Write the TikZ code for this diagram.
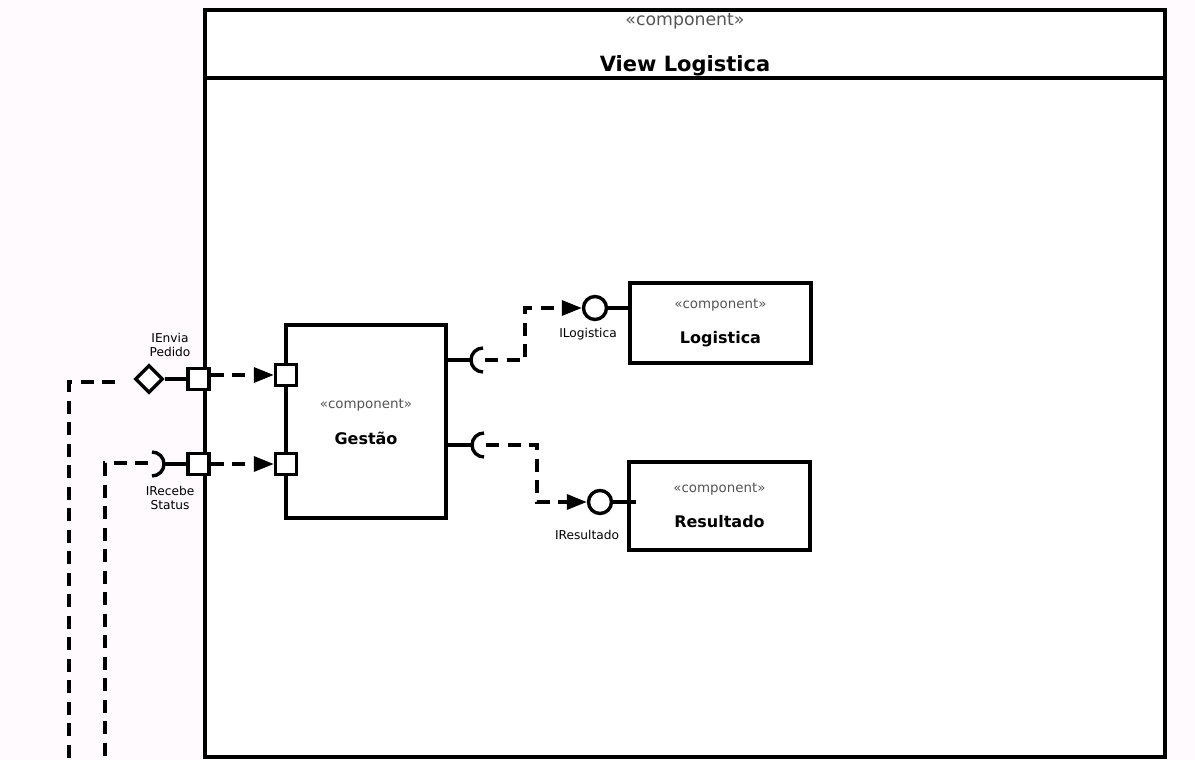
\documentclass[tikz,border=0pt]{standalone}
\usepackage{fontspec}
\setmainfont{DejaVu Sans}
\usetikzlibrary{arrows.meta,shapes.geometric}
\definecolor{bg}{RGB}{254,250,253}
\definecolor{stereogray}{RGB}{85,85,85}
\begin{document}
\begin{tikzpicture}[x=1pt,y=-1pt,
  box/.style={draw, line width=3.4pt, fill=white, rectangle, inner sep=0pt},
  port/.style={draw, line width=3.4pt, fill=white, minimum size=21pt, inner sep=0pt},
  solidline/.style={line width=3.4pt},
  dline/.style={line width=3.4pt, dash pattern=on 13pt off 8.5pt, line join=miter},
  darrow/.style={dline, -{Triangle[length=20pt,width=15pt]}},
  stereo/.style={text=stereogray, font=\fontsize{13.4}{15}\selectfont, inner sep=0pt},
  cname/.style={font=\bfseries\fontsize{16}{18}\selectfont, inner sep=0pt},
  lbl/.style={font=\fontsize{12.2}{14}\selectfont, align=center, inner sep=0pt},
]
\fill[bg] (0,0) rectangle (1195,760);
\useasboundingbox (0,0) rectangle (1195,760);

% outer component
\node[box, minimum width=960pt, minimum height=747pt] (view) at (685,383.5) {};
\node[box, minimum width=960pt, minimum height=68pt] (viewhead) at (685,44) {};
\node[text=stereogray, font=\fontsize{17.3}{19}\selectfont, inner sep=0pt] (viewst) at (685,21.5) {«component»};
\node[font=\bfseries\fontsize{21}{24}\selectfont, inner sep=0pt] (viewname) at (685,65.5) {View Logistica};

% inner components
\node[box, minimum width=160pt, minimum height=193pt] (gestao) at (366,421.5) {};
\node[stereo] (gestaost) at (366,405) {«component»};
\node[cname] (gestaoname) at (366,438) {Gestão};

\node[box, minimum width=181pt, minimum height=80pt] (logistica) at (720.5,323) {};
\node[stereo] (logst) at (720.5,305) {«component»};
\node[cname] (logname) at (720.5,339) {Logistica};

\node[box, minimum width=181pt, minimum height=88pt] (resultado) at (719.5,506) {};
\node[stereo] (resst) at (719.5,489) {«component»};
\node[cname] (resname) at (719.5,522) {Resultado};

% ports
\node[port] (pA) at (198.5,379) {};
\node[port] (pB) at (198.5,464) {};
\node[port] (gA) at (286,375) {};
\node[port] (gB) at (286,464) {};

% left provided / required interfaces
\node[diamond, draw, line width=3.4pt, fill=white, minimum width=28pt, minimum height=28pt, inner sep=0pt] (dmd) at (149,379) {};
\draw[solidline] (dmd.east) -- (pA.west);
\coordinate (sockB) at (163,464);
\draw[solidline] (sockB) -- (pB.west);
\draw[solidline] (152,452) arc[start angle=-90, end angle=90, radius=12];

\coordinate (dA1) at (115,382);
\coordinate (dA2) at (69,382);
\coordinate (dA3) at (69,762);
\draw[dline] (dA1) -- (dA2) -- (dA3);
\coordinate (dB1) at (148,463);
\coordinate (dB2) at (105,463);
\coordinate (dB3) at (105,762);
\draw[dline] (dB1) -- (dB2) -- (dB3);

\draw[darrow] (pA.east |- gA.west) -- (gA.west);
\draw[darrow] (pB.east) -- (gB.west);

\node[lbl] (lblA) at (170,345) {IEnvia\\Pedido};
\node[lbl] (lblB) at (170,498) {IRecebe\\Status};

% right side: required sockets and lollipops
\coordinate (gR1) at (gestao.east |- 0,360);
\coordinate (sR1) at (471,360);
\draw[solidline] (gR1) -- (sR1);
\draw[solidline] (483,348) arc[start angle=-90, end angle=-270, radius=12];

\coordinate (gR2) at (gestao.east |- 0,445);
\coordinate (sR2) at (472,445);
\draw[solidline] (gR2) -- (sR2);
\draw[solidline] (484,433) arc[start angle=-90, end angle=-270, radius=12];

\node[circle, draw, line width=3.4pt, fill=white, minimum size=23pt, inner sep=0pt] (lolL) at (595,308) {};
\node[circle, draw, line width=3.4pt, fill=white, minimum size=23pt, inner sep=0pt] (lolR) at (600,502) {};
\draw[solidline] (lolL.east) -- (logistica.west |- lolL.east);
\coordinate (lolRend) at (636,502);
\draw[solidline] (lolR.east) -- (lolRend);

\coordinate (c1a) at (485,360);
\coordinate (c1b) at (525,360);
\coordinate (c1c) at (525,308);
\draw[darrow] (c1a) -- (c1b) -- (c1c) -- (lolL.west);

\coordinate (c2a) at (486,445);
\coordinate (c2b) at (537,445);
\coordinate (c2c) at (537,502);
\draw[darrow] (c2a) -- (c2b) -- (c2c) -- (lolR.west);

\node[lbl] (lblL) at (588,334) {ILogistica};
\node[lbl] (lblR) at (587,535) {IResultado};
\end{tikzpicture}
\end{document}
